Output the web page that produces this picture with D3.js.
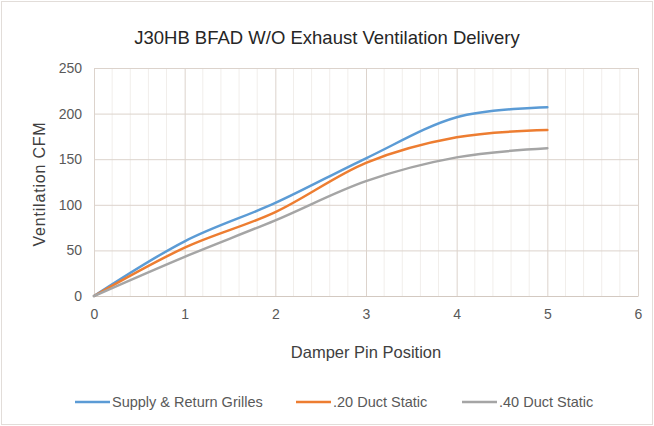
<!DOCTYPE html>
<html>
<head>
<meta charset="utf-8">
<script src="https://cdn.jsdelivr.net/npm/d3@7"></script>
<style>
  body { margin: 0; background: #fff; }
  svg { display: block; }
</style>
</head>
<body>
<div id="vis"></div>
<script>
var pinPosition = [0, 1, 2, 3, 4, 5];
var supplyReturn = [0, 60, 102, 151, 196, 207];
var duct20 = [0, 53, 92, 146, 174, 182];
var duct40 = [0, 43, 83, 126, 152, 162];

var seriesNames = ["Supply & Return Grilles", ".20 Duct Static", ".40 Duct Static"];
var seriesColors = ["#5b9bd5", "#ed7d31", "#a5a5a5"];
var xTicks = [0, 1, 2, 3, 4, 5, 6];
var yTicks = [0, 50, 100, 150, 200, 250];

var outer_width = 654;
var outer_height = 426;
var margin = {top: 68, right: 16, bottom: 130, left: 94};
var plot_width = outer_width - margin.left - margin.right;
var plot_height = outer_height - margin.top - margin.bottom;

var svg = d3.select("#vis")
  .append("svg")
  .attr("width", outer_width)
  .attr("height", outer_height);

// chart area border
svg.append("rect")
  .attr("x", 1.5).attr("y", 1.5)
  .attr("width", outer_width - 3).attr("height", outer_height - 3)
  .style("fill", "#fff")
  .style("stroke", "#e2ddd9");

var g = svg.append("g")
  .attr("transform", "translate(" + margin.left + "," + margin.top + ")");

var xScale = d3.scaleLinear().domain([0, 6]).range([0, plot_width]);
var yScale = d3.scaleLinear().domain([0, 250]).range([plot_height, 0]);

// minor vertical grid
g.append("g")
  .selectAll("line")
  .data(d3.range(0, 30).map(function(i){ return i / 5; }).filter(function(v){ return Math.abs(v - Math.round(v)) > 0.01; }))
  .enter().append("line")
  .attr("x1", function(d){ return xScale(d); })
  .attr("x2", function(d){ return xScale(d); })
  .attr("y1", 0).attr("y2", plot_height)
  .style("stroke", "#f1eeeb")
  .style("stroke-width", 1);

// major grid
g.append("g")
  .call(d3.axisLeft(yScale).tickValues(yTicks).tickSize(-plot_width).tickFormat(""))
  .call(function(a){ a.select(".domain").remove(); })
  .selectAll("line").style("stroke", "#dcd3cc");

g.append("g")
  .attr("transform", "translate(0," + plot_height + ")")
  .call(d3.axisBottom(xScale).tickValues(xTicks).tickSize(-plot_height).tickFormat(""))
  .call(function(a){ a.select(".domain").remove(); })
  .selectAll("line").style("stroke", "#dcd3cc");

// tick labels
var yAxis = g.append("g")
  .call(d3.axisLeft(yScale).tickValues(yTicks).tickSize(0).tickPadding(12).tickFormat(d3.format("d")));
yAxis.select(".domain").remove();
yAxis.selectAll("text")
  .style("font-family", "Liberation Sans, Arial, sans-serif")
  .style("font-size", "14px")
  .style("fill", "#595959");

var xAxis = g.append("g")
  .attr("transform", "translate(0," + plot_height + ")")
  .call(d3.axisBottom(xScale).tickValues(xTicks).tickSize(0).tickPadding(13).tickFormat(d3.format("d")));
xAxis.select(".domain").style("stroke", "#d3c9c1");
xAxis.selectAll("text")
  .style("font-family", "Liberation Sans, Arial, sans-serif")
  .style("font-size", "14px")
  .style("fill", "#595959");

// lines
var allSeries = [supplyReturn, duct20, duct40];
var line = d3.line()
  .x(function(d, i){ return xScale(pinPosition[i]); })
  .y(function(d){ return yScale(d); })
  .curve(d3.curveCatmullRom.alpha(0));

g.selectAll(".series")
  .data(allSeries)
  .enter().append("path")
  .attr("class", "series")
  .attr("d", line)
  .style("fill", "none")
  .style("stroke", function(d, i){ return seriesColors[i]; })
  .style("stroke-width", 2.5)
  .style("stroke-linecap", "round");

// titles
svg.append("text")
  .attr("x", 327).attr("y", 44)
  .style("text-anchor", "middle")
  .style("font-family", "Liberation Sans, Arial, sans-serif")
  .style("font-size", "18.5px")
  .style("fill", "#262626")
  .text("J30HB BFAD W/O Exhaust Ventilation Delivery");

svg.append("text")
  .attr("transform", "translate(45," + (margin.top + plot_height / 2 + 2) + ") rotate(-90)")
  .style("text-anchor", "middle")
  .style("font-family", "Liberation Sans, Arial, sans-serif")
  .style("font-size", "16px")
  .style("letter-spacing", "0.8px")
  .style("fill", "#404040")
  .text("Ventilation CFM");

svg.append("text")
  .attr("x", margin.left + xScale(3)).attr("y", 358)
  .style("text-anchor", "middle")
  .style("font-family", "Liberation Sans, Arial, sans-serif")
  .style("font-size", "16.5px")
  .style("fill", "#404040")
  .text("Damper Pin Position");

// legend
var legendX = [75, 296, 462];
var legend = svg.selectAll(".legend")
  .data(seriesNames)
  .enter().append("g")
  .attr("class", "legend")
  .attr("transform", function(d, i){ return "translate(" + legendX[i] + ",402)"; });

legend.append("line")
  .attr("x1", 0).attr("x2", 35)
  .attr("y1", 0).attr("y2", 0)
  .style("stroke", function(d, i){ return seriesColors[i]; })
  .style("stroke-width", 2.5);

legend.append("text")
  .attr("x", 37).attr("y", 5)
  .style("font-family", "Liberation Sans, Arial, sans-serif")
  .style("font-size", "14.5px")
  .style("fill", "#595959")
  .text(function(d){ return d; });
</script>
</body>
</html>
